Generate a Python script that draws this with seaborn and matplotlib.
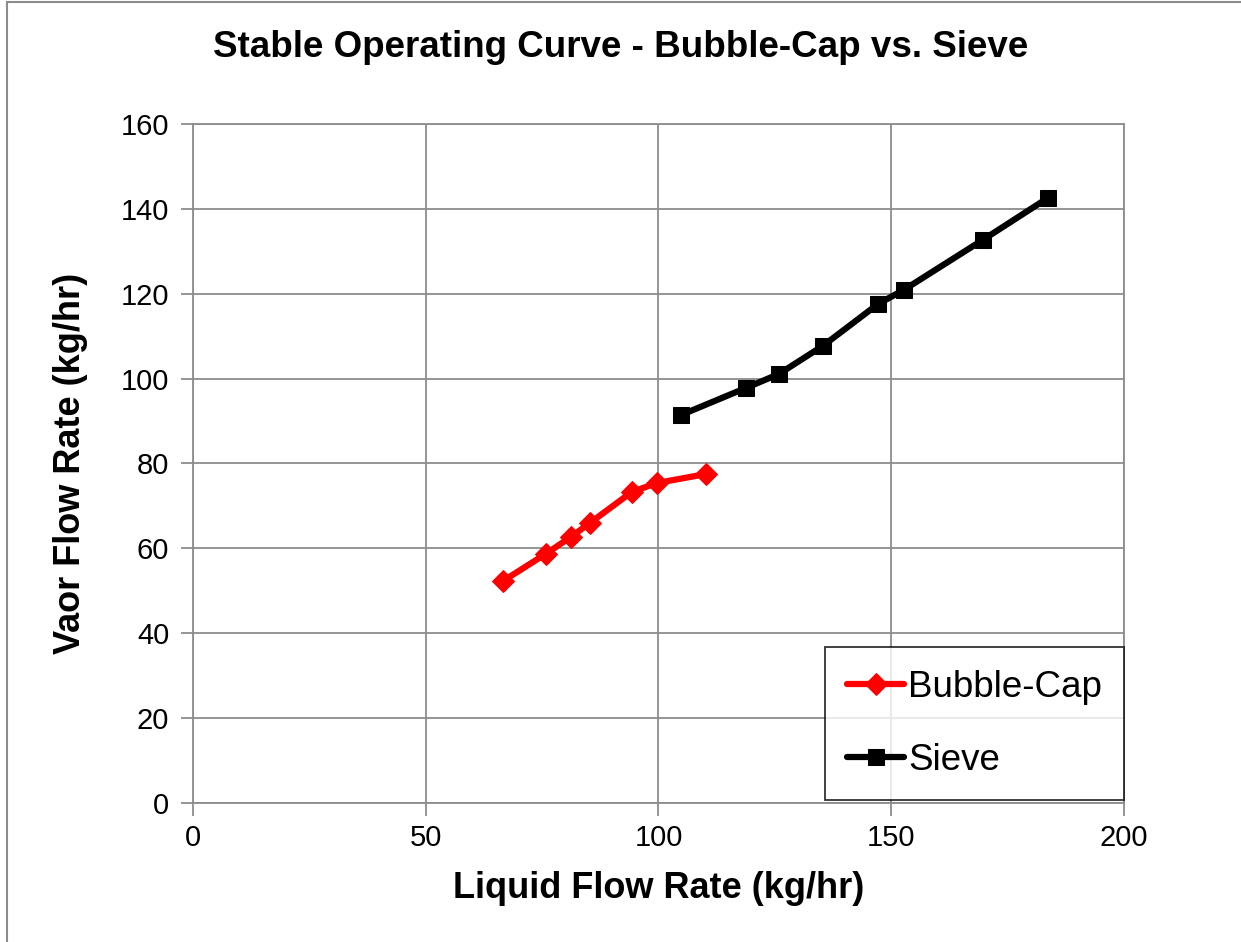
import matplotlib
matplotlib.use("Agg")
import matplotlib.pyplot as plt
import seaborn as sns

# data
bubble_liquid = [66.6, 75.8, 81.2, 85.3, 94.3, 99.7, 110.2]
bubble_vapor = [52.3, 58.7, 62.7, 66.0, 73.3, 75.4, 77.5]
sieve_liquid = [104.8, 118.8, 125.9, 135.3, 147.2, 152.7, 169.7, 183.7]
sieve_vapor = [91.4, 97.8, 101.1, 107.7, 117.6, 120.9, 132.7, 142.6]

sns.set_style("white")
plt.rcParams['font.family'] = ['Liberation Sans', 'DejaVu Sans']
plt.rcParams['text.color'] = 'black'
plt.rcParams['axes.labelcolor'] = 'black'
plt.rcParams['xtick.color'] = 'black'
plt.rcParams['ytick.color'] = 'black'

fig = plt.figure(figsize=(12.41, 9.42), dpi=100)
ax = fig.add_axes([0.1555, 0.1476, 0.7502, 0.7208])

sns.lineplot(x=bubble_liquid, y=bubble_vapor, ax=ax, color='#ff0000', lw=4.5,
             marker='D', markersize=11, markeredgecolor='#ff0000',
             sort=False, label='Bubble-Cap')
sns.lineplot(x=sieve_liquid, y=sieve_vapor, ax=ax, color='black', lw=4.5,
             marker='s', markersize=11, markeredgecolor='black',
             sort=False, label='Sieve')

ax.set_xlim(0, 200)
ax.set_ylim(0, 160)
ax.set_xticks(range(0, 201, 50))
ax.set_yticks(range(0, 161, 20))
ax.grid(True, color='#8c8c8c', lw=1.3)
ax.set_axisbelow(True)
for s in ax.spines.values():
    s.set_color('#8c8c8c')
    s.set_linewidth(1.3)
ax.tick_params(axis='x', pad=6)
ax.tick_params(axis='y', pad=8)
ax.tick_params(axis='both', labelsize=21, length=9, width=1.3, color='#8c8c8c',
               labelcolor='black', direction='out', left=True, bottom=True)

ax.set_xlabel('Liquid Flow Rate (kg/hr)', fontsize=26, fontweight='bold', labelpad=14)
ax.set_ylabel('Vaor Flow Rate (kg/hr)', fontsize=26, fontweight='bold', labelpad=24)
fig.text(0.5, 0.950, 'Stable Operating Curve - Bubble-Cap vs. Sieve',
         ha='center', va='center', fontsize=26.5, fontweight='bold')

leg = ax.legend(loc='lower right', bbox_to_anchor=(1.0, 0.004), fontsize=26.5,
                frameon=True, fancybox=False, handlelength=1.55, handletextpad=0.1,
                labelspacing=1.05, borderpad=0.6, borderaxespad=0)
leg.get_frame().set_edgecolor('black')
leg.get_frame().set_linewidth(1.3)

# outer chart border (top and left visible)
fig.add_artist(plt.Rectangle((0.006, -0.01), 1.05, 1.008, transform=fig.transFigure,
                             fill=False, edgecolor='#8c8c8c', lw=1.5))

fig.savefig('out.png', dpi=100)
